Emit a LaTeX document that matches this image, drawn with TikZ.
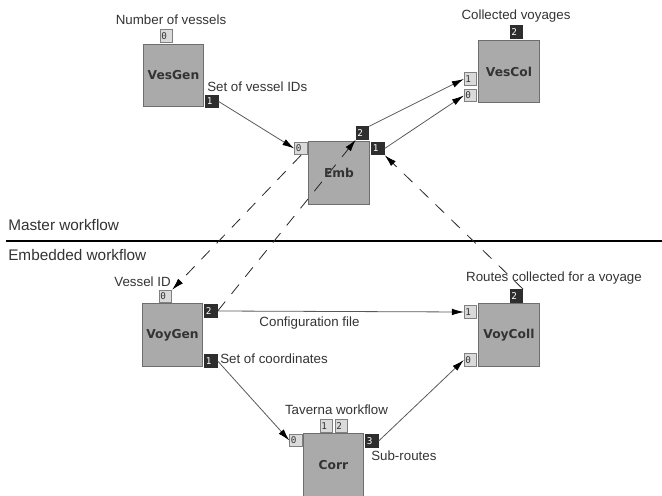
\documentclass[tikz,border=0pt]{standalone}
\usepackage{fontspec}
\setmainfont{Liberation Sans}
\newfontfamily\boxfont{DejaVu Sans}
\newfontfamily\portfont{DejaVu Sans Mono}
\usetikzlibrary{arrows.meta}
\definecolor{actfill}{HTML}{AAAAAA}
\definecolor{actline}{HTML}{6E6E6E}
\definecolor{inport}{HTML}{DADADA}
\definecolor{outport}{HTML}{2E2E2E}
\definecolor{txt}{HTML}{333333}
\newcommand{\pf}{\portfont\fontsize{7}{7}\selectfont}
\newcommand{\bx}{\boxfont\bfseries\fontsize{9.2}{9.2}\selectfont}
\newcommand{\lf}{\fontsize{10}{12}\selectfont}
\newcommand{\hf}{\fontsize{11.5}{13}\selectfont}

\begin{document}
\begin{tikzpicture}[x=0.75pt,y=-0.75pt,
   actor/.style={draw=actline,fill=actfill,line width=0.9pt,minimum width=45.5pt,
     minimum height=47pt,inner sep=0pt,text=txt,font=\bx},
   inp/.style={draw=gray,fill=inport,line width=0.6pt,minimum height=9.5pt,inner sep=0.8pt,
     text width=7.8pt,align=left,text=txt,font=\pf},
   outp/.style={inp,draw=outport,fill=outport,text=white},
   note/.style={inner sep=0pt,text=txt,font=\lf},
   flow/.style={draw=black!65,line width=0.6pt,-{Latex[length=9pt,width=5pt,black]}},
   link/.style={flow,draw=black!85,dash pattern=on 9pt off 7.5pt}]
   \useasboundingbox (0,0) rectangle (662,496);
   \clip (0,0) rectangle (662,496);
   % master / embedded
   \draw[line width=2.2pt] (6,241) -- (662,241);
   \node[note,font=\hf,anchor=west] (master) at (8,225) {Master workflow};
   \node[note,font=\hf,anchor=west] (embedded) at (8,255) {Embedded workflow};
   % actors
   \node[actor] (vesgen)  at (173.5,75.5) {VesGen};
   \node[actor] (emb)     at (339,173)    {Emb};
   \node[actor] (vescol)  at (509,71.5)   {VesCol};
   \node[actor] (voygen)  at (172.5,335)  {VoyGen};
   \node[actor] (voycoll) at (509,335)    {VoyColl};
   \node[actor] (corr)    at (333.5,465)  {Corr};
   % ports
   \node[inp]  (vesgen0)  at (166.5,36)   {0};
   \node[outp] (vesgen1)  at (212,101.5)  {1};
   \node[inp]  (emb0)     at (301,148.5)  {0};
   \node[outp] (emb2)     at (362.5,133)  {2};
   \node[outp] (emb1)     at (378,148.5)  {1};
   \node[outp] (vescol2)  at (516.5,32)   {2};
   \node[inp]  (vescol1)  at (470.5,79)   {1};
   \node[inp]  (vescol0)  at (470.5,95.5) {0};
   \node[inp]  (voygen0)  at (165.5,296.5) {0};
   \node[outp] (voygen2)  at (211,311)    {2};
   \node[outp] (voygen1)  at (211,361)    {1};
   \node[outp] (voycoll2) at (516.5,296)  {2};
   \node[inp]  (voycoll1) at (470.5,312)  {1};
   \node[inp]  (voycoll0) at (470.5,360)  {0};
   \node[inp]  (corr0)    at (296,440.5)  {0};
   \node[inp]  (corr1)    at (326.5,426)  {1};
   \node[inp]  (corr2)    at (341.5,426)  {2};
   \node[outp] (corr3)    at (372,441)    {3};
   % port labels
   \node[note] (nvessels) at (171,20) {Number of vessels};
   \node[note,anchor=west] (vesids) at (207,87) {Set of vessel IDs};
   \node[note] (voyages) at (516,16) {Collected voyages};
   \node[note,anchor=east] (vesid) at (171,282) {Vessel ID};
   \node[note] (config) at (309.5,323) {Configuration file};
   \node[note,anchor=west] (coords) at (220,359) {Set of coordinates};
   \node[note] (routes) at (554,278) {Routes collected for a voyage};
   \node[note] (taverna) at (336.5,410) {Taverna workflow};
   \node[note,anchor=west] (subroutes) at (371,456) {Sub-routes};
   % data links
   \draw[flow] (vesgen1.east) -- (emb0.west);
   \draw[flow] (emb2.north east) -- (vescol1.west);
   \draw[flow] (emb1.east) -- (vescol0.west);
   \draw[flow] (voygen2.east) -- (voycoll1.west);
   \draw[flow] (voygen1.east) -- (corr0.west);
   \draw[flow] (corr3.east) -- (voycoll0.west);
   % embedding
   \draw[link] (voygen2.east) -- (emb2.south west);
   \draw[link] (emb0.south) -- (voygen0.north east);
   \draw[link] (voycoll2.north east) -- (emb1.south east);
\end{tikzpicture}
\end{document}
